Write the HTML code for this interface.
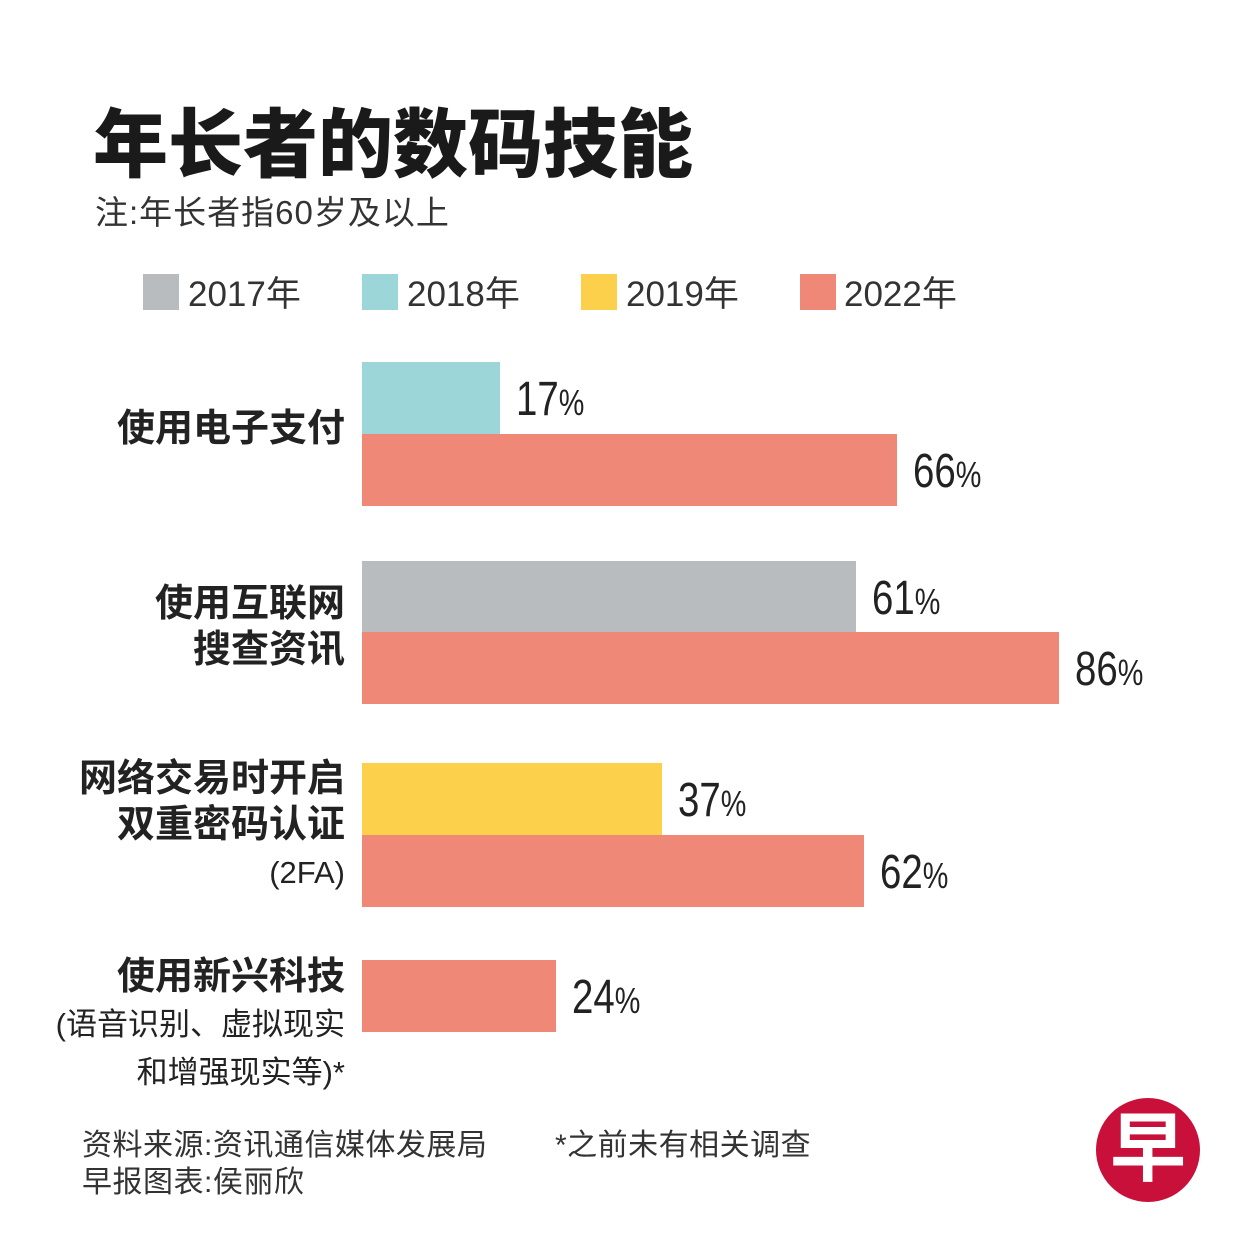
<!DOCTYPE html>
<html><head><meta charset="utf-8">
<style>
body{margin:0;width:1251px;height:1251px;background:#fff;position:relative;overflow:hidden;font-family:"Liberation Sans","Noto Sans CJK SC",sans-serif;color:#222}
.a{position:absolute;white-space:nowrap}
.cat{position:absolute;right:906px;text-align:right;font-weight:bold;font-size:38px;line-height:46px;color:#222;white-space:nowrap}
.sub{font-weight:normal;font-size:31px;line-height:46px}
.lg{position:absolute;top:274px;width:36px;height:36px}
.lt{position:absolute;top:266px;font-size:35px;color:#333}
.val{position:absolute;font-size:48px;transform:scaleX(0.8);transform-origin:left center;color:#222;line-height:48px;white-space:nowrap}
.val span{font-size:36px}
</style></head><body>
<div class="a" style="left:93px;top:84px;font-size:75px;font-weight:900;color:#1a1a1a">年长者的数码技能</div>
<div class="a" style="left:95px;top:186px;font-size:33px;letter-spacing:1px;color:#333">注:年长者指60岁及以上</div>

<div class="lg" style="left:143px;background:#b9bcbf"></div>
<div class="lt" style="left:188px">2017年</div>
<div class="lg" style="left:362px;background:#9dd6d8"></div>
<div class="lt" style="left:407px">2018年</div>
<div class="lg" style="left:581px;background:#fdd04b"></div>
<div class="lt" style="left:626px">2019年</div>
<div class="lg" style="left:800px;background:#f08878"></div>
<div class="lt" style="left:844px">2022年</div>

<div class="cat" style="top:406px">使用电子支付</div>
<div class="cat" style="top:581px">使用互联网<br>搜查资讯</div>
<div class="cat" style="top:756px">网络交易时开启<br>双重密码认证<br><span class="sub">(2FA)</span></div>
<div class="cat" style="top:954px">使用新兴科技<br><span class="sub">(语音识别、虚拟现实<br>和增强现实等)*</span></div>

<div id="bars"></div>

<div class="a" style="left:82px;top:1127px;font-size:30px;letter-spacing:0.5px;color:#333;line-height:37px">资料来源:资讯通信媒体发展局<br>早报图表:侯丽欣</div>
<div class="a" style="left:555px;top:1127px;font-size:30px;letter-spacing:0.5px;color:#333;line-height:37px">*之前未有相关调查</div>
<div class="a" style="left:1096px;top:1098px;width:104px;height:104px;border-radius:50%;background:#c8103a;color:#fff;font-size:76px;font-weight:bold;text-align:center;line-height:104px">早</div>

<script>
const categories=["使用电子支付","使用互联网搜查资讯","网络交易时开启双重密码认证","使用新兴科技"];
const seriesYear=["2018","2022","2017","2022","2019","2022","2022"];
const barCategory=[0,0,1,1,2,2,3];
const values=[17,66,61,86,37,62,24];
const barTops=[362,434,561,632,763,835,960];
const colors={"2017":"#b9bcbf","2018":"#9dd6d8","2019":"#fdd04b","2022":"#f08878"};
const x0=362,pxPer=8.1,barH=72;
function xScale(v){return v*pxPer;}
const root=document.getElementById('bars');
values.forEach((v,i)=>{
  const b=document.createElement('div');
  
  
  b.style.cssText='position:absolute;left:'+x0+'px;top:'+barTops[i]+'px;width:'+xScale(v)+'px;height:'+barH+'px;background:'+colors[seriesYear[i]];
  root.appendChild(b);
  const t=document.createElement('div');
  t.className='val';
  
  
  t.style.left=(x0+xScale(v)+16)+'px';
  t.style.top=(barTops[i]+barH/2-22)+'px';
  t.innerHTML=v+'<span>%</span>';
  root.appendChild(t);
});
</script>
</body></html>
